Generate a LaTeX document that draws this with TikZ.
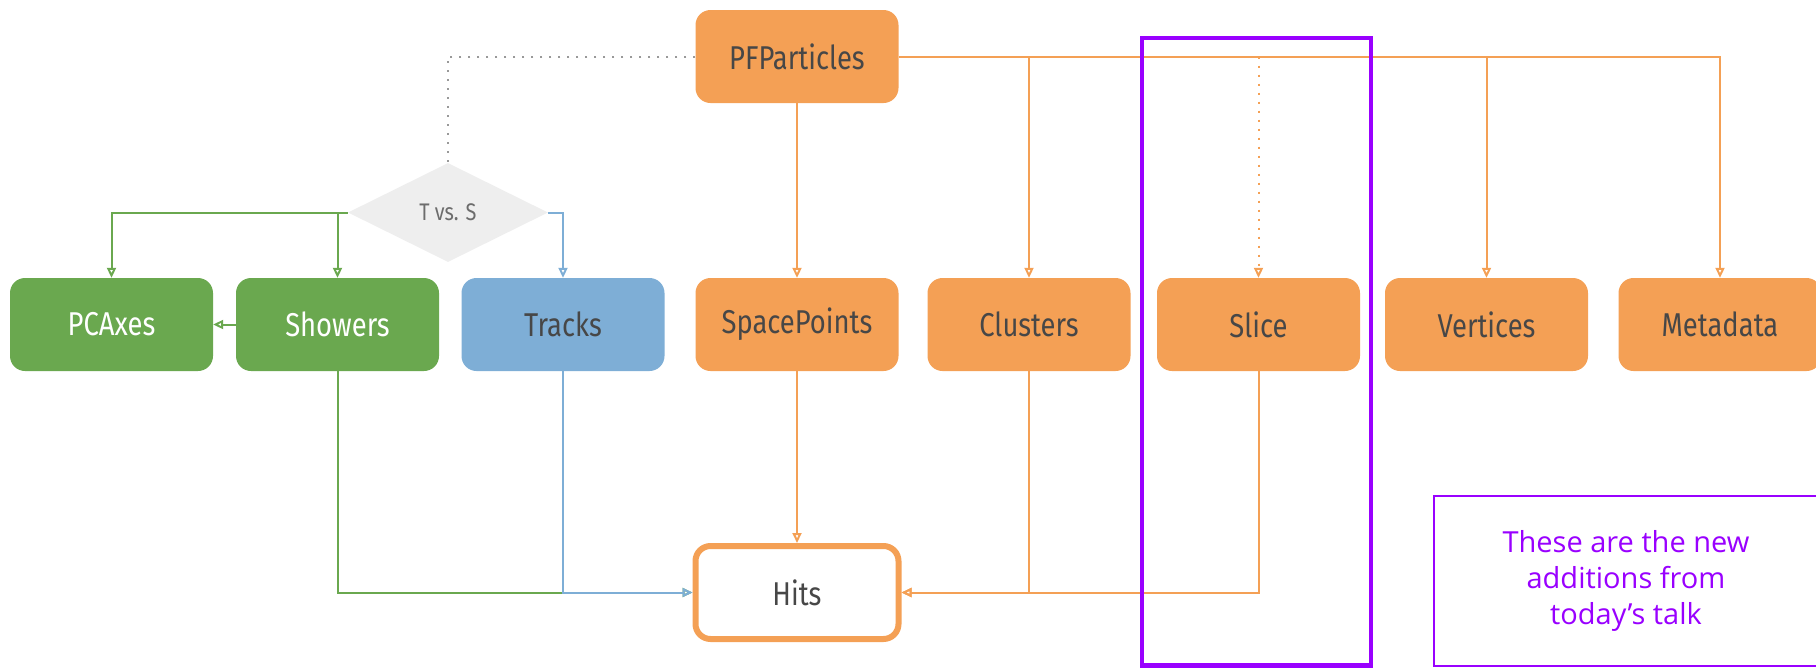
\documentclass[tikz,border=0pt]{standalone}
\usepackage{fontspec}
\usetikzlibrary{arrows.meta,shapes.geometric}
\newfontfamily\boxfont[FakeStretch=0.83]{Fira Sans}
\newfontfamily\notefont{Open Sans}
\definecolor{orng}{HTML}{F4A055}
\definecolor{grn}{HTML}{6AA84F}
\definecolor{blu}{HTML}{7EAED6}
\definecolor{purp}{HTML}{9900FF}
\definecolor{txt}{HTML}{474747}
\definecolor{lgray}{HTML}{EEEEEE}
\definecolor{dotgray}{HTML}{999999}
\tikzset{
  box/.style={rectangle, rounded corners=15pt, minimum width=203pt, minimum height=93pt, inner sep=0pt, font=\boxfont\fontsize{33}{38}\selectfont, text=txt},
  obox/.style={box, fill=orng},
  gbox/.style={box, fill=grn, text=white},
  bbox/.style={box, fill=blu},
  hitbox/.style={box, draw=orng, line width=6pt, fill=white},
  conn/.style={line width=2pt, -{Triangle[open,length=10pt,width=9pt]}},
  dotline/.style={line width=2pt, dash pattern=on 2pt off 7pt},
  hilite/.style={draw=purp, line width=4.5pt},
  notebox/.style={draw=purp, line width=2.5pt, text=purp, align=center, minimum width=384pt, minimum height=170pt, font=\notefont\fontsize{29}{36}\selectfont},
}
\begin{document}
\begin{tikzpicture}[x=1pt,y=-1pt]
\useasboundingbox (0,0) rectangle (1816,667);
\node[obox] (pf) at (797,56.5) {PFParticles};
\node[gbox] (pca) at (111.5,324.5) {PCAxes};
\node[gbox] (sh) at (337.5,324.5) {Showers};
\node[bbox] (tr) at (563,324.5) {Tracks};
\node[obox] (sp) at (797,324.5) {SpacePoints};
\node[obox] (cl) at (1029,324.5) {Clusters};
\node[obox] (sl) at (1258.5,324.5) {Slice};
\node[obox] (vx) at (1486.5,324.5) {Vertices};
\node[obox] (md) at (1720,324.5) {Metadata};
\node[hitbox] (hits) at (797,592.5) {Hits};
\node[diamond, fill=lgray, minimum width=200pt, minimum height=99pt, inner sep=0pt, aspect=2, text=txt!80, font=\boxfont\fontsize{24}{28}\selectfont] (ts) at (448,212.5) {T vs. S};

\draw[dotline, dotgray] (pf.west) -| (ts.north);
\draw[conn, orng] (pf.south) -- (sp.north);
\draw[conn, orng] (sp.south) -- (hits.north);
\draw[conn, orng] (pf.east) -| (md.north);
\draw[conn, orng] (pf.east -| cl.north) -- (cl.north);
\draw[conn, orng, dash pattern=on 2pt off 7pt] (pf.east -| sl.north) -- (sl.north);
\draw[conn, orng] (pf.east -| vx.north) -- (vx.north);
\draw[conn, grn] (ts.west) -| (pca.north);
\draw[conn, grn] (ts.west -| sh.north) -- (sh.north);
\draw[conn, blu] (ts.east) -| (tr.north);
\draw[conn, grn] (sh.west) -- (pca.east);
\draw[conn, grn] (sh.south) |- (hits.west);
\draw[conn, blu] (tr.south) |- (hits.west);
\draw[conn, orng] (cl.south) |- (hits.east);
\draw[conn, orng] (sl.south) |- (hits.east);

\draw[hilite] (1142,38) rectangle (1371,665.5);
\node[notebox] (note) at (1626,581) {These are the new\\additions from\\today’s talk};
\end{tikzpicture}
\end{document}
